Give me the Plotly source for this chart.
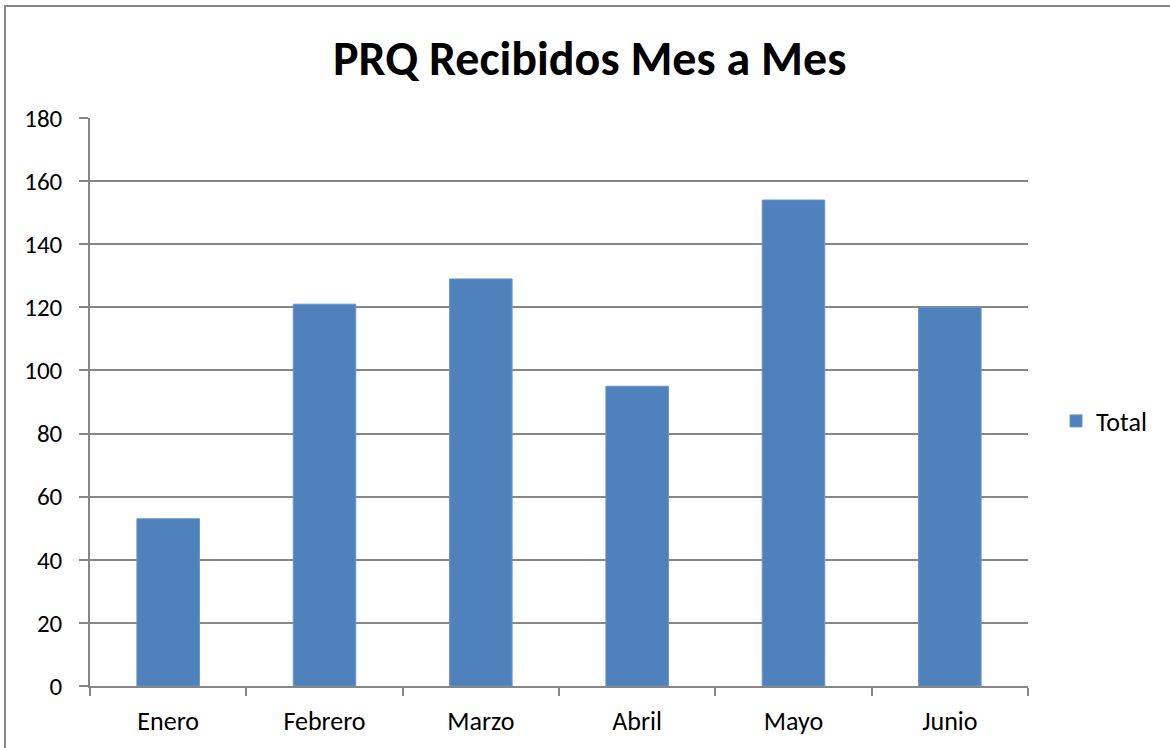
import plotly.graph_objects as go

meses = ["Enero", "Febrero", "Marzo", "Abril", "Mayo", "Junio"]
total = [53, 121, 129, 95, 154, 120]
y_ticks = [0, 20, 40, 60, 80, 100, 120, 140, 160, 180]

FONT = "Carlito, Calibri, Lato, sans-serif"
GRID = "#868686"

fig = go.Figure()
fig.add_trace(go.Bar(
    x=meses, y=total, name="Total",
    marker=dict(color="#4F81BD", line=dict(color="#6A95C8", width=1)),
))

fig.update_layout(
    width=1170, height=748,
    margin=dict(l=90, r=142, t=118, b=62),
    paper_bgcolor="white", plot_bgcolor="white",
    bargap=0.6,
    showlegend=True,
    font=dict(family=FONT, size=25, color="#000000"),
    title=dict(text="<b>PRQ Recibidos Mes a Mes</b>", x=0.504, xanchor="center",
               y=1 - 58 / 748, yanchor="middle", yref="container",
               font=dict(family=FONT, size=48, color="#000000")),
    legend=dict(xref="container", yref="container",
                x=1056 / 1170, y=1 - 421 / 748, xanchor="left", yanchor="middle",
                font=dict(family=FONT, size=26), itemwidth=30,
                bgcolor="rgba(0,0,0,0)"),
    shapes=[dict(type="rect", xref="paper", yref="paper",
                 x0=-85 / 938, x1=1090 / 938, y0=-70 / 568, y1=680 / 568,
                 line=dict(color="#868686", width=2), fillcolor="rgba(0,0,0,0)",
                 layer="below")],
)

fig.update_xaxes(
    showline=True, linecolor=GRID, linewidth=1.5,
    ticks="outside", tickson="boundaries", ticklen=8, tickcolor=GRID, tickwidth=1.5,
    showgrid=False, tickfont=dict(family=FONT, size=26),
    ticklabelstandoff=11,
)
fig.update_yaxes(
    range=[0, 180], tickvals=y_ticks,
    showline=True, linecolor=GRID, linewidth=1.5,
    ticks="outside", ticklen=9, tickcolor=GRID, tickwidth=1.5,
    showgrid=True, gridcolor=GRID, gridwidth=1.5,
    zeroline=False, tickfont=dict(family=FONT, size=25),
    ticklabelstandoff=12,
)

fig.write_html("out.html", config={"displayModeBar": False},
               post_script="document.body.style.margin='0';")
